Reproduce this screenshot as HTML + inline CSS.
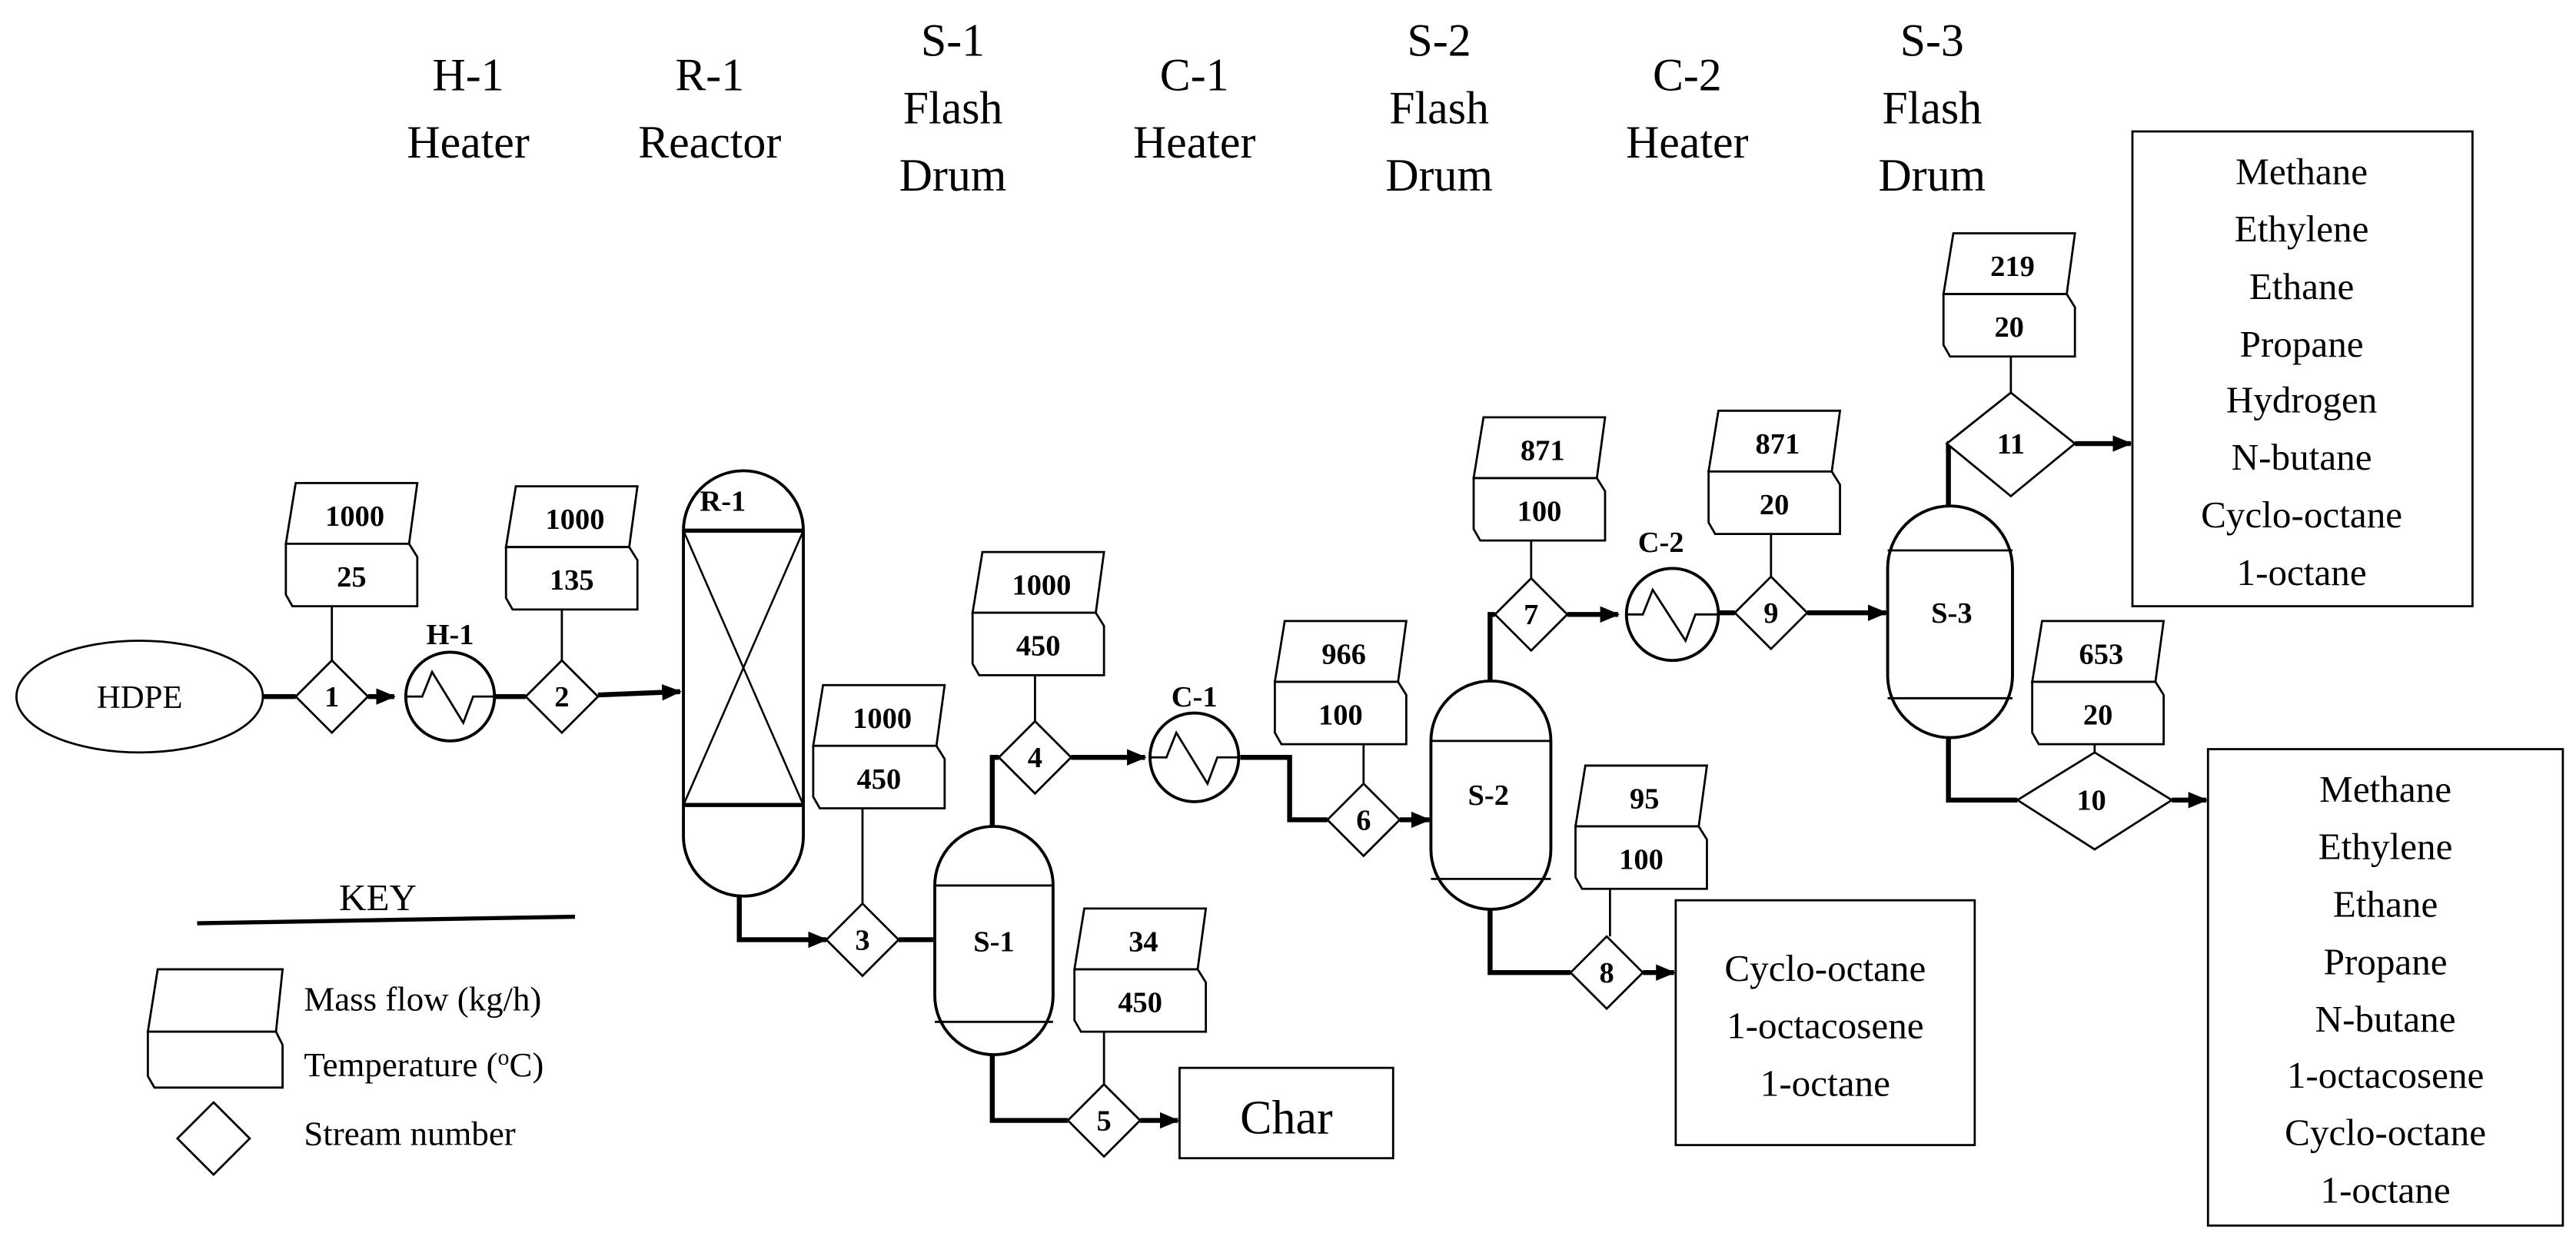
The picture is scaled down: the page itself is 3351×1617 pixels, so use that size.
<!DOCTYPE html>
<html><head><meta charset="utf-8"><style>
html,body{margin:0;padding:0;background:#fff;}
svg{display:block;}
text{font-family:"Liberation Serif",serif;fill:#000;}
.t{font-size:28px;text-anchor:middle;}
.b{font-weight:bold;font-size:18px;text-anchor:middle;}
.l{font-size:23px;text-anchor:middle;}
.k{font-size:21px;}
</style></head><body>
<svg width="3351" height="1617" viewBox="0 0 1568 756.6" xmlns="http://www.w3.org/2000/svg">
<defs>
<marker id="ar" markerWidth="12" markerHeight="10" refX="11" refY="5" orient="auto" markerUnits="userSpaceOnUse"><path d="M0,0 L12,5 L0,10 Z" fill="#000"/></marker>
<g id="box"><path d="M6,0 L80,0 L75,37 L0,37 Z" fill="#fff" stroke="#000" stroke-width="1.3"/><path d="M0,37 L75,37 L80,45 L80,75 L4,75 L0,68 Z" fill="#fff" stroke="#000" stroke-width="1.3"/></g>
</defs>
<rect width="1568" height="757" fill="#fff"/>
<text class="t" x="285" y="55">H-1</text><text class="t" x="285" y="96">Heater</text>
<text class="t" x="432" y="55">R-1</text><text class="t" x="432" y="96">Reactor</text>
<text class="t" x="580" y="34">S-1</text><text class="t" x="580" y="75">Flash</text><text class="t" x="580" y="116">Drum</text>
<text class="t" x="727" y="55">C-1</text><text class="t" x="727" y="96">Heater</text>
<text class="t" x="876" y="34">S-2</text><text class="t" x="876" y="75">Flash</text><text class="t" x="876" y="116">Drum</text>
<text class="t" x="1027" y="55">C-2</text><text class="t" x="1027" y="96">Heater</text>
<text class="t" x="1176" y="34">S-3</text><text class="t" x="1176" y="75">Flash</text><text class="t" x="1176" y="116">Drum</text>

<g fill="none" stroke="#000">
<ellipse cx="85" cy="424" rx="75" ry="34" stroke-width="1.3"/>
<g stroke-width="3">
<line x1="160" y1="424" x2="180" y2="424"/>
<line x1="224" y1="424" x2="240" y2="424" marker-end="url(#ar)"/>
<line x1="301" y1="424" x2="320" y2="424"/>
<line x1="364" y1="423" x2="414" y2="421" marker-end="url(#ar)"/>
<polyline points="450,545 450,572 503,572" marker-end="url(#ar)"/>
<line x1="547" y1="572" x2="568" y2="572"/>
<polyline points="604,503 604,461 608,461"/>
<line x1="652" y1="461" x2="697" y2="461" marker-end="url(#ar)"/>
<polyline points="755,461 785,461 785,499 808,499"/>
<line x1="852" y1="499" x2="870" y2="499" marker-end="url(#ar)"/>
<polyline points="907,415 907,374 910,374"/>
<line x1="954" y1="374" x2="985" y2="374" marker-end="url(#ar)"/>
<line x1="1046" y1="373" x2="1056" y2="373"/>
<line x1="1100" y1="373" x2="1148" y2="373" marker-end="url(#ar)"/>
<polyline points="1186,308 1186,270 1185,270"/>
<line x1="1263" y1="270" x2="1297" y2="270" marker-end="url(#ar)"/>
<polyline points="1186,449 1186,487 1228,487"/>
<line x1="1322" y1="487" x2="1343" y2="487" marker-end="url(#ar)"/>
<polyline points="907,553 907,592 956,592"/>
<line x1="1000" y1="592" x2="1019" y2="592" marker-end="url(#ar)"/>
<polyline points="604,642 604,682 650,682"/>
<line x1="694" y1="682" x2="717" y2="682" marker-end="url(#ar)"/>
</g>
<g stroke-width="1.3">
<line x1="202" y1="369" x2="202" y2="402"/>
<line x1="342" y1="371" x2="342" y2="402"/>
<line x1="525" y1="492" x2="525" y2="550"/>
<line x1="630" y1="411" x2="630" y2="439"/>
<line x1="672" y1="628" x2="672" y2="660"/>
<line x1="830" y1="453" x2="830" y2="477"/>
<line x1="932" y1="329" x2="932" y2="352"/>
<line x1="980" y1="541" x2="980" y2="570"/>
<line x1="1078" y1="325" x2="1078" y2="351"/>
<line x1="1224" y1="217" x2="1224" y2="239"/>
<line x1="1275" y1="453" x2="1275" y2="458"/>
</g>
<g stroke-width="1.8">
<circle cx="274" cy="424" r="27"/><circle cx="727" cy="461" r="27"/><circle cx="1018" cy="374" r="28"/>
</g>
<g stroke-width="1.3">
<path d="M247,424 L257,424 L263,409 L282,440 L288,424 L301,424"/>
<path d="M700,461 L710,461 L716,446 L735,477 L741,461 L754,461"/>
<path d="M990,374 L1000,374 L1006,359 L1026,390 L1032,374 L1046,374"/>
</g>
<g stroke-width="1.8">
<path d="M416,323 A36.5,36.5 0 0 1 489,323 L489,509 A36.5,36.5 0 0 1 416,509 Z"/>
<line x1="416" y1="323" x2="489" y2="323" stroke-width="2.5"/>
<line x1="416" y1="490" x2="489" y2="490" stroke-width="2.5"/>
</g>
<g stroke-width="1.2"><line x1="416" y1="323" x2="489" y2="490"/><line x1="489" y1="323" x2="416" y2="490"/></g>
<g stroke-width="1.8">
<path d="M569,539 A36,36 0 0 1 641,539 L641,606 A36,36 0 0 1 569,606 Z"/>
<line x1="569" y1="539" x2="641" y2="539" stroke-width="1.3"/><line x1="569" y1="622" x2="641" y2="622" stroke-width="1.3"/>
<path d="M871,451 A36.5,36.5 0 0 1 944,451 L944,517 A36.5,36.5 0 0 1 871,517 Z"/>
<line x1="871" y1="451" x2="944" y2="451" stroke-width="1.3"/><line x1="871" y1="535" x2="944" y2="535" stroke-width="1.3"/>
<path d="M1149,346 A38,38 0 0 1 1225,346 L1225,411 A38,38 0 0 1 1149,411 Z"/>
<line x1="1149" y1="335" x2="1225" y2="335" stroke-width="1.3"/><line x1="1149" y1="425" x2="1225" y2="425" stroke-width="1.3"/>
</g>
<g stroke-width="1.3" fill="#fff">
<polygon points="202,402 224,424 202,446 180,424"/>
<polygon points="342,402 364,424 342,446 320,424"/>
<polygon points="525,550 547,572 525,594 503,572"/>
<polygon points="630,439 652,461 630,483 608,461"/>
<polygon points="672,660 694,682 672,704 650,682"/>
<polygon points="830,477 852,499 830,521 808,499"/>
<polygon points="932,352 954,374 932,396 910,374"/>
<polygon points="978,570 1000,592 978,614 956,592"/>
<polygon points="1078,351 1100,373 1078,395 1056,373"/>
<polygon points="1224,239 1263,270 1224,302 1185,270"/>
<polygon points="1275,458 1322,487 1275,517 1228,487"/>
<polygon points="130,671 152,693 130,715 108,693"/>
</g>
<g stroke-width="1.3">
<rect x="1298" y="80" width="207" height="289"/>
<rect x="1344" y="456" width="216" height="290"/>
<rect x="1020" y="548" width="182" height="149"/>
<rect x="718" y="650" width="130" height="55"/>
<line x1="120" y1="562" x2="350" y2="558" stroke-width="2.5"/>
<path d="M96,590 L172,590 L168,628 L90,628 Z"/>
<path d="M90,628 L168,628 L172,636 L172,662 L94,662 L90,655 Z"/>
</g>
</g>
<use href="#box" x="174" y="294"/><text class="b" x="216" y="320">1000</text><text class="b" x="214" y="357">25</text>
<use href="#box" x="308" y="296"/><text class="b" x="350" y="322">1000</text><text class="b" x="348" y="359">135</text>
<use href="#box" x="495" y="417"/><text class="b" x="537" y="443">1000</text><text class="b" x="535" y="480">450</text>
<use href="#box" x="592" y="336"/><text class="b" x="634" y="362">1000</text><text class="b" x="632" y="399">450</text>
<use href="#box" x="654" y="553"/><text class="b" x="696" y="579">34</text><text class="b" x="694" y="616">450</text>
<use href="#box" x="776" y="378"/><text class="b" x="818" y="404">966</text><text class="b" x="816" y="441">100</text>
<use href="#box" x="897" y="254"/><text class="b" x="939" y="280">871</text><text class="b" x="937" y="317">100</text>
<use href="#box" x="959" y="466"/><text class="b" x="1001" y="492">95</text><text class="b" x="999" y="529">100</text>
<use href="#box" x="1040" y="250"/><text class="b" x="1082" y="276">871</text><text class="b" x="1080" y="313">20</text>
<use href="#box" x="1237" y="378"/><text class="b" x="1279" y="404">653</text><text class="b" x="1277" y="441">20</text>
<use href="#box" x="1183" y="142"/><text class="b" x="1225" y="168">219</text><text class="b" x="1223" y="205">20</text>
<text class="b" x="202" y="430">1</text><text class="b" x="342" y="430">2</text><text class="b" x="525" y="578">3</text>
<text class="b" x="630" y="467">4</text><text class="b" x="672" y="688">5</text><text class="b" x="830" y="505">6</text>
<text class="b" x="932" y="380">7</text><text class="b" x="978" y="598">8</text><text class="b" x="1078" y="379">9</text>
<text class="b" x="1273" y="493">10</text><text class="b" x="1224" y="276">11</text>
<text class="b" x="274" y="392">H-1</text><text class="b" x="727" y="430">C-1</text><text class="b" x="1011" y="336">C-2</text>
<text class="b" x="440" y="311">R-1</text><text class="b" x="605" y="579">S-1</text><text class="b" x="906" y="490">S-2</text><text class="b" x="1188" y="379">S-3</text>
<text x="85" y="431" style="font-size:20px;text-anchor:middle">HDPE</text>
<text x="783" y="690" style="font-size:29px;text-anchor:middle">Char</text>
<text class="l" x="1401" y="112">Methane</text><text class="l" x="1401" y="147">Ethylene</text><text class="l" x="1401" y="182">Ethane</text><text class="l" x="1401" y="217">Propane</text><text class="l" x="1401" y="251">Hydrogen</text><text class="l" x="1401" y="286">N-butane</text><text class="l" x="1401" y="321">Cyclo-octane</text><text class="l" x="1401" y="356">1-octane</text>
<text class="l" x="1452" y="488">Methane</text><text class="l" x="1452" y="523">Ethylene</text><text class="l" x="1452" y="558">Ethane</text><text class="l" x="1452" y="593">Propane</text><text class="l" x="1452" y="628">N-butane</text><text class="l" x="1452" y="662">1-octacosene</text><text class="l" x="1452" y="697">Cyclo-octane</text><text class="l" x="1452" y="732">1-octane</text>
<text class="l" x="1111" y="597">Cyclo-octane</text><text class="l" x="1111" y="632">1-octacosene</text><text class="l" x="1111" y="667">1-octane</text>
<text class="l" x="230" y="554">KEY</text>
<text class="k" x="185" y="615">Mass flow (kg/h)</text>
<text class="k" x="185" y="655">Temperature (<tspan dy="-7" style="font-size:14px">o</tspan><tspan dy="7">C)</tspan></text>
<text class="k" x="185" y="697">Stream number</text>
</svg>
</body></html>
